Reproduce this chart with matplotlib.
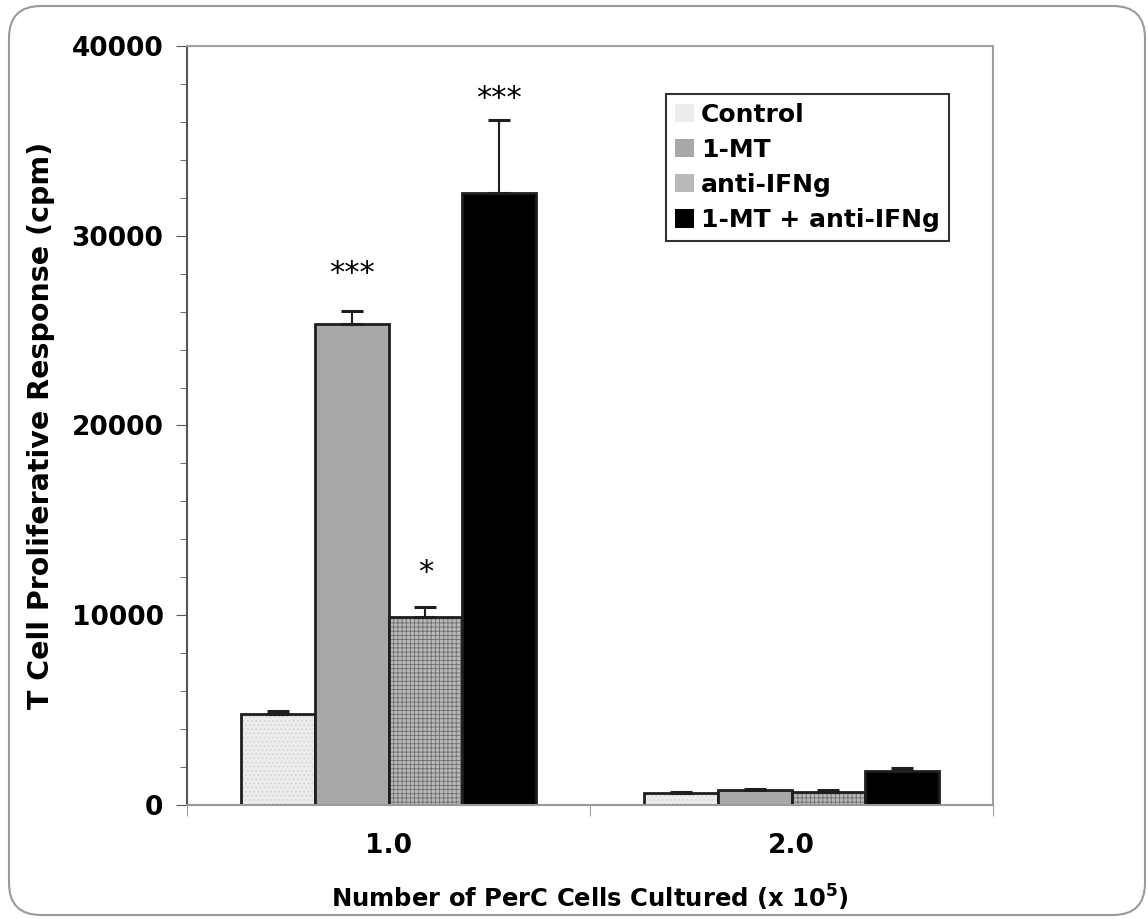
import numpy as np
import matplotlib.pyplot as plt
from matplotlib.patches import FancyBboxPatch
from matplotlib.transforms import IdentityTransform
from matplotlib.ticker import MultipleLocator
from matplotlib.colors import to_rgba

plt.rcParams['font.family'] = 'DejaVu Sans'
plt.rcParams['hatch.linewidth'] = 0.6

# data
groups = ['1.0', '2.0']
series = ['Control', '1-MT', 'anti-IFNg', '1-MT + anti-IFNg']
control = [4800, 650]
mt = [25350, 780]
ifng = [9900, 700]
combo = [32250, 1800]
control_err = [150, 40]
mt_err = [680, 50]
ifng_err = [530, 100]
combo_err = [3850, 150]
stars = ['', '***', '*', '***']
star_y = [0, 28000, 12250, 37250]

values = [control, mt, ifng, combo]
errors = [control_err, mt_err, ifng_err, combo_err]
faces = ['#ececec', '#a8a8a8', '#b9b9b9', '#000000']
hatches = ['....', None, '++++', None]
hcolors = ['#cfcfcf', '#a8a8a8', '#6e6e6e', '#000000']

fig = plt.figure(figsize=(11.48, 9.19), dpi=100)
ax = fig.add_axes([0.163, 0.124, 0.702, 0.826])

# rounded frame around the whole figure (pixel coords)
frame = FancyBboxPatch((9, 4), 1136, 909, boxstyle='round,pad=0,rounding_size=32',
                       transform=IdentityTransform(), fill=False, ec='#9a9a9a', lw=1.5)
fig.patches.append(frame)

x = np.arange(len(groups))
w = 0.183
handles = []
for i in range(4):
    pos = x + (i - 1.5) * w
    b = ax.bar(pos, values[i], w, color=faces[i], edgecolor='#1e1e1e', lw=2,
               hatch=hatches[i], zorder=2)
    for p in b:
        p._hatch_color = to_rgba(hcolors[i])
    ax.errorbar(pos, values[i], yerr=[[0, 0], errors[i]], fmt='none', ecolor='#1e1e1e',
                elinewidth=1.5, capsize=8, capthick=2.2, zorder=3)
    handles.append(b)
    if stars[i]:
        ax.text(pos[0], star_y[i], stars[i], ha='center', va='center', fontsize=22)

ax.set_xlim(-0.5, 1.5)
ax.set_ylim(0, 40000)
ax.set_xticks([0, 1])
ax.set_xticklabels(groups)
ax.set_xticks([-0.5, 0.5, 1.5], minor=True)
ax.tick_params(axis='x', which='major', length=0, pad=20, labelsize=19)
ax.tick_params(axis='x', which='minor', length=8, color='#888888')
ax.yaxis.set_major_locator(MultipleLocator(10000))
ax.yaxis.set_minor_locator(MultipleLocator(2000))
ax.tick_params(axis='y', which='major', length=8, color='#555555', labelsize=19, pad=9)
ax.tick_params(axis='y', which='minor', length=5, color='#555555')
for lab in ax.get_xticklabels() + ax.get_yticklabels():
    lab.set_fontweight('bold')

for s in ['top', 'right']:
    ax.spines[s].set_color('#a0a0a0')
    ax.spines[s].set_linewidth(1.5)
ax.spines['left'].set_color('#555555')
ax.spines['bottom'].set_color('#999999')
ax.spines['left'].set_linewidth(1.5)
ax.spines['bottom'].set_linewidth(1.5)

ax.set_ylabel('T Cell Proliferative Response (cpm)', fontsize=20.5, fontweight='bold', labelpad=12)
ax.set_xlabel('Number of PerC Cells Cultured (x 10$^{\\mathbf{5}}$)', fontsize=17.5,
              fontweight='bold', labelpad=17)

leg = ax.legend(handles, series, loc='upper right', bbox_to_anchor=(0.945, 0.937),
                prop={'weight': 'bold', 'size': 18}, frameon=True, fancybox=False,
                handlelength=0.75, handleheight=0.75, handletextpad=0.3, labelspacing=0.45,
                borderpad=0.35, borderaxespad=0)
leg.get_frame().set_edgecolor('#000000')
leg.get_frame().set_linewidth(1.5)
for h in leg.legend_handles:
    h.set_edgecolor('none')

fig.savefig('out.png', dpi=100)
